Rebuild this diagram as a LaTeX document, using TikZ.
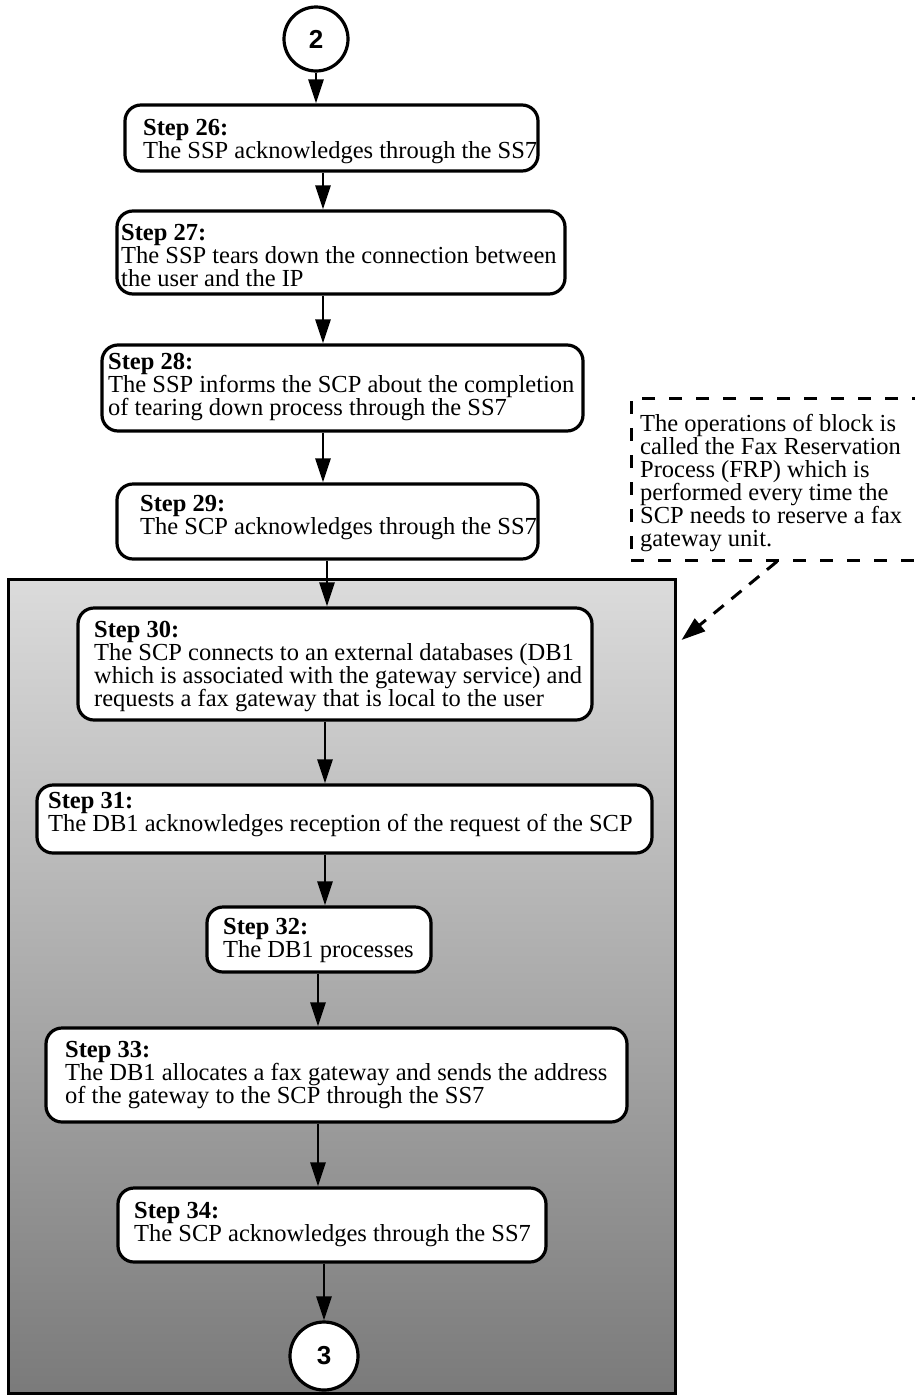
\documentclass[tikz,border=0pt]{standalone}
\usepackage{fontspec}
\setmainfont{Liberation Serif}
\newfontfamily\labelfont{Liberation Sans}
\usetikzlibrary{arrows.meta,calc}
\begin{document}
\begin{tikzpicture}[x=1pt,y=-1pt,
  stepbox/.style={draw, fill=white, rounded corners=16pt, line width=3.2pt, inner sep=0pt},
  steptxt/.style={anchor=west, align=left, inner sep=0pt, font=\fontsize{24.5}{23}\selectfont},
  flow/.style={line width=2.8pt, -{Triangle[length=24pt,width=15pt]}},
  endpoint/.style={draw, fill=white, circle, line width=3.2pt, inner sep=0pt,
    font=\labelfont\bfseries\fontsize{26}{26}\selectfont},
  frpbox/.style={draw, line width=3pt, top color=black!14, middle color=black!44,
    bottom color=black!52, inner sep=0pt},
  notebox/.style={draw, dash pattern=on 13pt off 14pt, line width=3pt, inner sep=0pt},
  notearrow/.style={line width=3pt, dash pattern=on 13pt off 10pt,
    -{Triangle[length=24pt,width=16pt]}}
]
\useasboundingbox (0,0) rectangle (915,1395);

% shaded block of the Fax Reservation Process
\node[frpbox, minimum width=667pt, minimum height=814pt] (frp) at (341.5,986) {};

% explanatory note, open towards the right margin
\node[notebox, minimum width=309pt, minimum height=162pt] (note) at (785.5,479) {};
\node[steptxt] (notet) at (640,483.5) {The operations of block is\\called the Fax Reservation\\Process (FRP) which is\\performed every time the\\SCP needs to reserve a fax\\gateway unit.};

% connectors in and out
\node[endpoint, minimum size=64pt] (c2) at (316,39) {2};
\node[endpoint, minimum size=68pt] (c3) at (324,1356) {3};

% step boxes
\node[stepbox, minimum width=413pt, minimum height=66pt] (s26) at (331.5,138) {};
\node[steptxt] (t26) at (143,141.5) {\textbf{Step 26:}\\The SSP acknowledges through the SS7};

\node[stepbox, minimum width=448pt, minimum height=83pt] (s27) at (341,252.5) {};
\node[steptxt] (t27) at (121,255.5) {\textbf{Step 27:}\\The SSP tears down the connection between\\the user and the IP};

\node[stepbox, minimum width=481pt, minimum height=86pt] (s28) at (342.5,388) {};
\node[steptxt] (t28) at (108,387) {\textbf{Step 28:}\\The SSP informs the SCP about the completion\\of tearing down process through the SS7};

\node[stepbox, minimum width=421pt, minimum height=75pt] (s29) at (327.5,521.5) {};
\node[steptxt] (t29) at (140,518) {\textbf{Step 29:}\\The SCP acknowledges through the SS7};

\node[stepbox, minimum width=514pt, minimum height=112pt] (s30) at (335,664) {};
\node[steptxt] (t30) at (94,666) {\textbf{Step 30:}\\The SCP connects to an external databases (DB1\\which is associated with the gateway service) and\\requests a fax gateway that is local to the user};

\node[stepbox, minimum width=615pt, minimum height=68pt] (s31) at (344.5,819) {};
\node[steptxt] (t31) at (48,815) {\textbf{Step 31:}\\The DB1 acknowledges reception of the request of the SCP};

\node[stepbox, minimum width=224pt, minimum height=65pt] (s32) at (319,939.5) {};
\node[steptxt] (t32) at (223,940.5) {\textbf{Step 32:}\\The DB1 processes};

\node[stepbox, minimum width=581pt, minimum height=94pt] (s33) at (336.5,1075) {};
\node[steptxt] (t33) at (65,1075) {\textbf{Step 33:}\\The DB1 allocates a fax gateway and sends the address\\of the gateway to the SCP through the SS7};

\node[stepbox, minimum width=428pt, minimum height=74pt] (s34) at (332,1225) {};
\node[steptxt] (t34) at (134,1225) {\textbf{Step 34:}\\The SCP acknowledges through the SS7};

% columns of the flow arrows
\coordinate (xa) at (323,0);
\coordinate (xb) at (327,0);
\coordinate (xc) at (325,0);
\coordinate (xd) at (318,0);
\coordinate (xn) at (777,0);
\coordinate (yt) at (0,640);

\draw[flow] (c2.south) -- (c2.south |- s26.north);
\draw[flow] (s26.south -| xa) -- (s27.north -| xa);
\draw[flow] (s27.south -| xa) -- (s28.north -| xa);
\draw[flow] (s28.south -| xa) -- (s29.north -| xa);
\draw[flow] (s29.south -| xb) -- (s30.north -| xb);
\draw[flow] (s30.south -| xc) -- (s31.north -| xc);
\draw[flow] (s31.south -| xc) -- (s32.north -| xc);
\draw[flow] (s32.south -| xd) -- (s33.north -| xd);
\draw[flow] (s33.south -| xd) -- (s34.north -| xd);
\draw[flow] (s34.south -| c3) -- (c3.north);

% note pointing at the shaded block
\draw[notearrow] (note.south -| xn) -- ($(frp.east |- yt)+(5,0)$);
\end{tikzpicture}
\end{document}
